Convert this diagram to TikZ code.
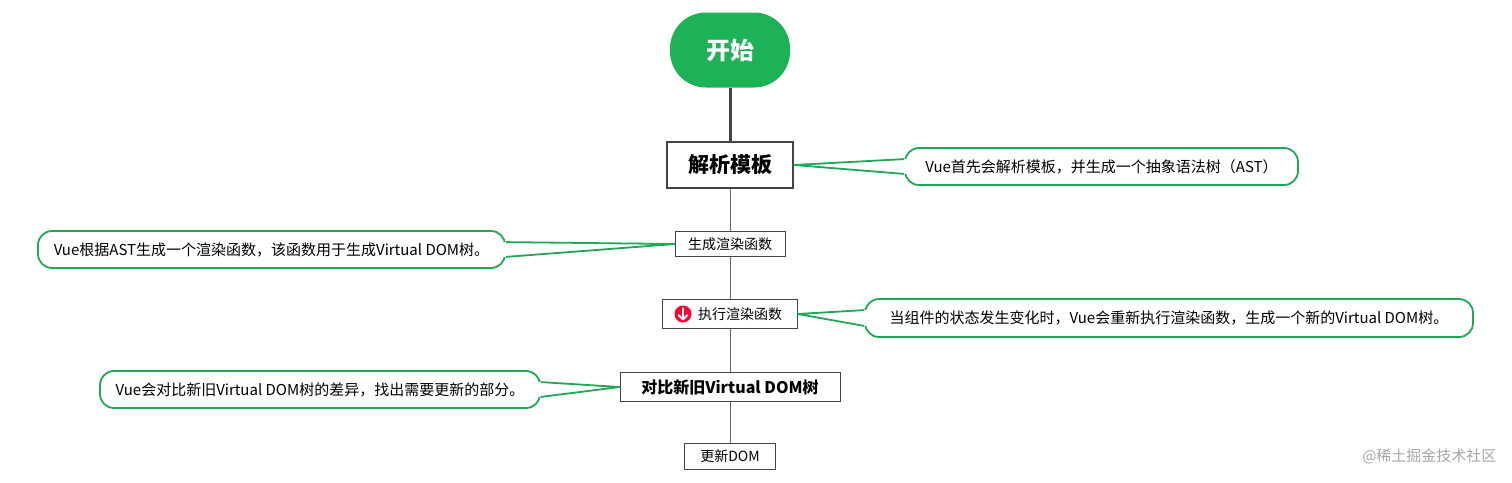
\documentclass[tikz,border=0pt]{standalone}
\usepackage{fontspec}
\setmainfont{Noto Sans CJK SC}
\usetikzlibrary{calc}
\definecolor{gr}{HTML}{1FA855}
\definecolor{gs}{HTML}{1DB256}
\definecolor{dk}{HTML}{444444}
\begin{document}
\begin{tikzpicture}[x=1pt,y=-1pt,
  box/.style={draw=dk,fill=white,inner sep=0pt,font=\fontsize{14}{14}\selectfont},
  call/.style={draw=gr,line width=1.8pt,rounded corners=14pt,fill=white,inner sep=0pt,font=\fontsize{15}{15}\selectfont},
  wedge/.style={draw=gr,line width=1.8pt,line join=round}]
\useasboundingbox (0,0) rectangle (1512,482);
% trunk
\draw[dk,line width=3pt] (730,88) -- (730,142);
\draw[gray!80!black,line width=1pt] (730,188) -- (730,443);
\node[fill=gs,rounded corners=36pt,minimum width=120pt,minimum height=75pt,text=white,font=\fontsize{24}{24}\selectfont\bfseries] (start) at (730,50) {开始};
\node[box,line width=2.2pt,minimum width=126pt,minimum height=46pt,font=\fontsize{21}{21}\selectfont\bfseries] (parse) at (730,165) {解析模板};
\node[box,minimum width=110pt,minimum height=25pt] (gen) at (730,244) {生成渲染函数};
\node[box,minimum width=135pt,minimum height=29pt] (exec) at (730,314) {\hspace{20pt}执行渲染函数};
\fill[red!80!magenta] (683,314) circle (8.5pt);
\draw[white,line width=2pt,line cap=round] (683,308) -- (683,319);
\draw[white,line width=2pt,line cap=round,line join=round] (678.5,315) -- (683,319.5) -- (687.5,315);
\node[box,minimum width=220pt,minimum height=29pt,font=\fontsize{16}{16}\selectfont\bfseries] (diff) at (730,387) {对比新旧Virtual DOM树};
\node[box,minimum width=91pt,minimum height=26pt] (upd) at (730,456) {更新DOM};
% callouts
\node[call,minimum width=393pt,minimum height=37pt] (c1) at (1101.5,166.5) {Vue首先会解析模板，并生成一个抽象语法树（AST）};
\node[call,minimum width=467pt,minimum height=37pt] (c2) at (271.5,249.5) {Vue根据AST生成一个渲染函数，该函数用于生成Virtual DOM树。};
\node[call,minimum width=608pt,minimum height=38pt] (c3) at (1169,318) {当组件的状态发生变化时，Vue会重新执行渲染函数，生成一个新的Virtual DOM树。};
\node[call,minimum width=440pt,minimum height=37pt] (c4) at (320,389.5) {Vue会对比新旧Virtual DOM树的差异，找出需要更新的部分。};
% wedges
\fill[white] (parse.east) -- ($(c1.north west)+(2,12)$) -- ($(c1.south west)+(2,-12)$) -- cycle;
\draw[wedge] ($(c1.north west)+(0,12)$) -- (parse.east) -- ($(c1.south west)+(0,-12)$);
\fill[white] (gen.west) -- ($(c2.north east)+(-2,12)$) -- ($(c2.south east)+(-2,-12)$) -- cycle;
\draw[wedge] ($(c2.north east)+(0,12)$) -- (gen.west) -- ($(c2.south east)+(0,-12)$);
\fill[white] (exec.east) -- ($(c3.north west)+(2,12)$) -- ($(c3.south west)+(2,-12)$) -- cycle;
\draw[wedge] ($(c3.north west)+(0,12)$) -- (exec.east) -- ($(c3.south west)+(0,-12)$);
\fill[white] (diff.west) -- ($(c4.north east)+(-2,12)$) -- ($(c4.south east)+(-2,-12)$) -- cycle;
\draw[wedge] ($(c4.north east)+(0,12)$) -- (diff.west) -- ($(c4.south east)+(0,-12)$);
\node[text=gray!70,font=\fontsize{15}{15}\selectfont,anchor=east] (wm) at (1500,456) {@稀土掘金技术社区};
\end{tikzpicture}
\end{document}
